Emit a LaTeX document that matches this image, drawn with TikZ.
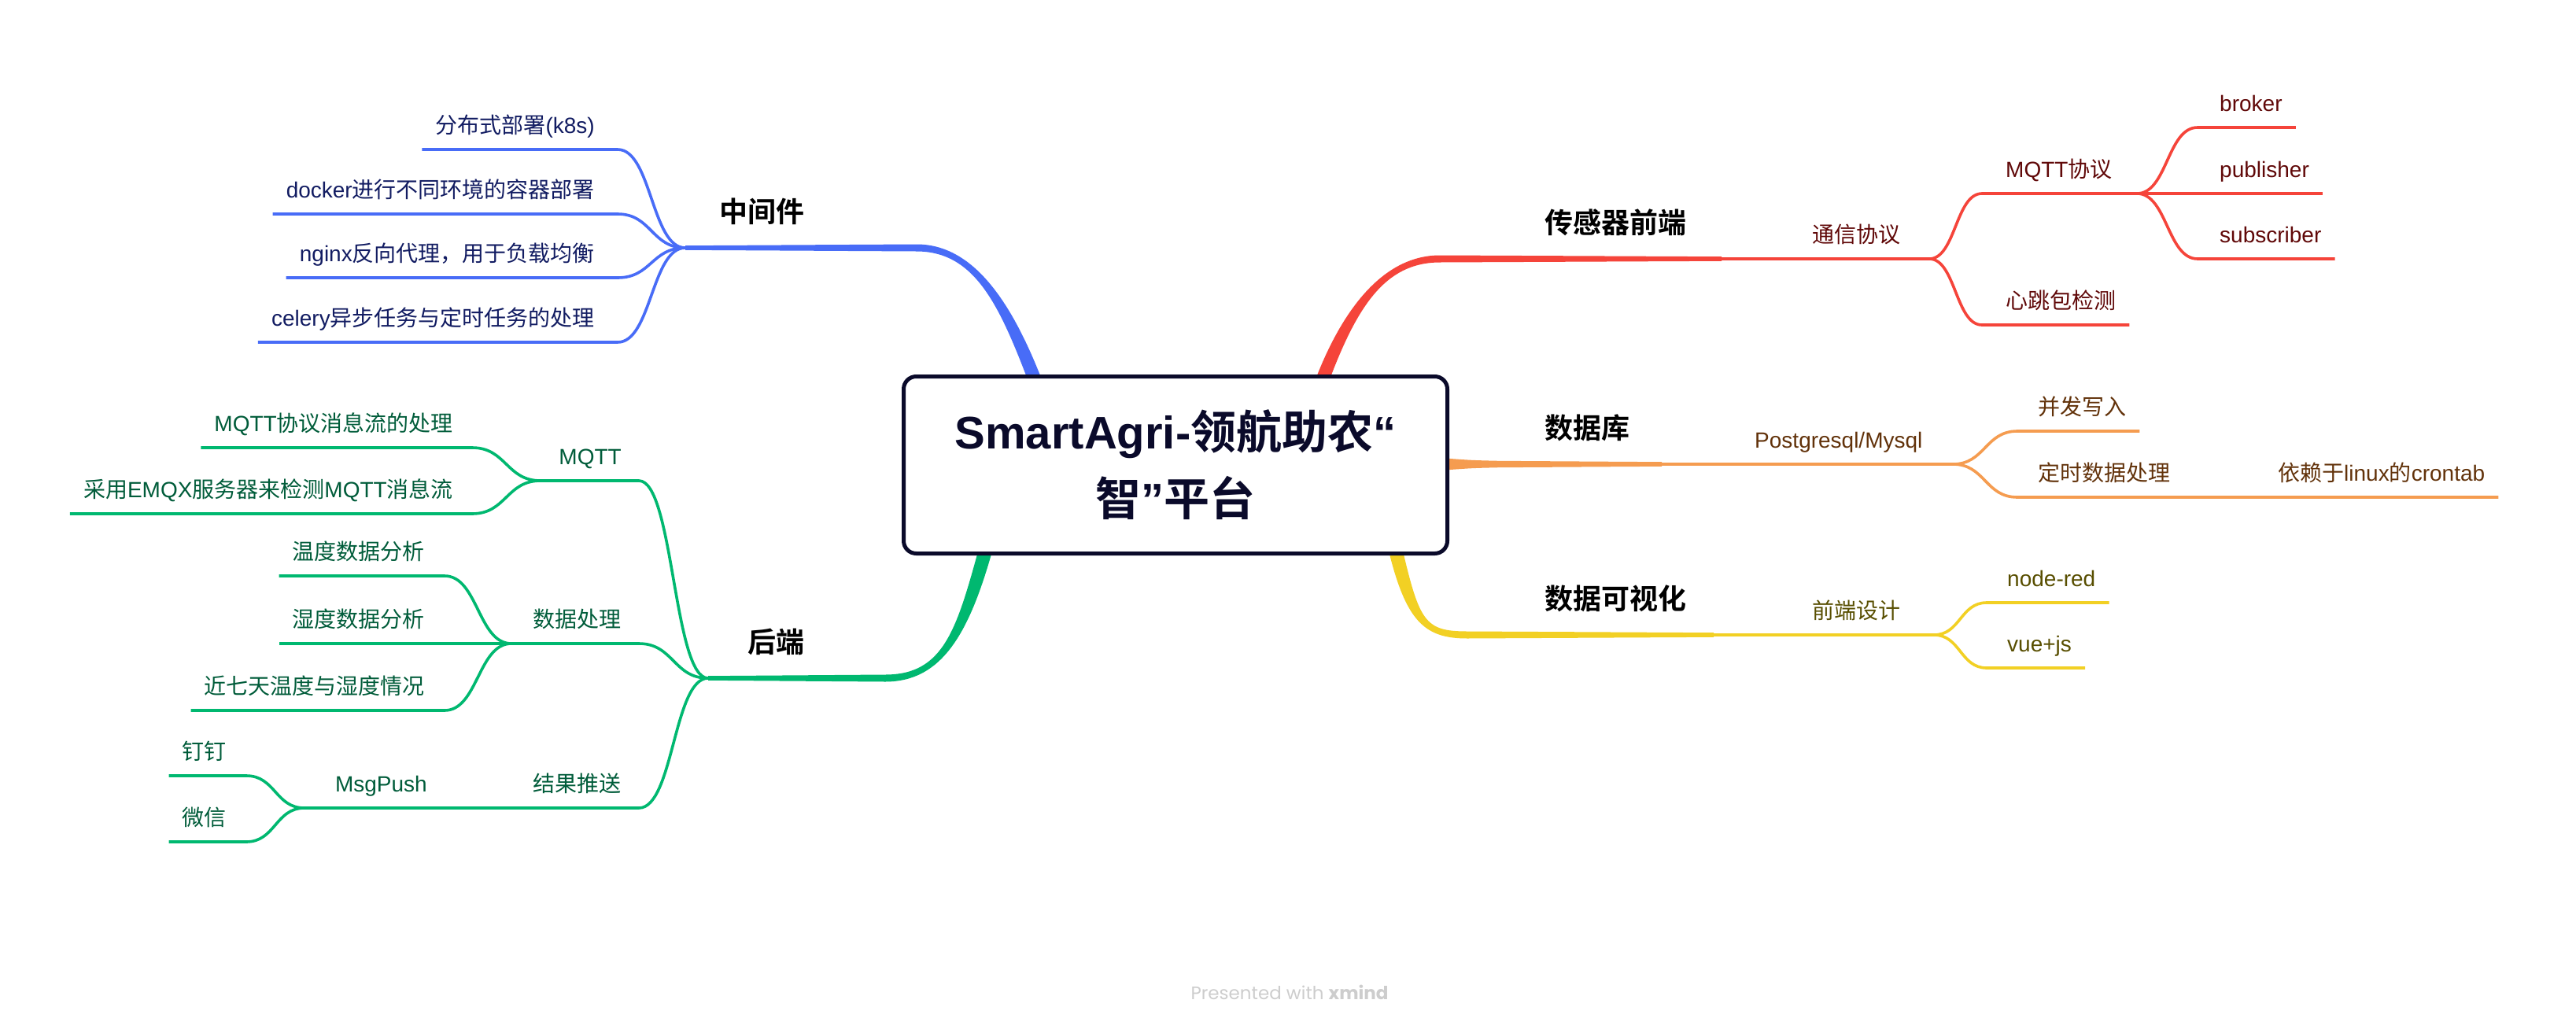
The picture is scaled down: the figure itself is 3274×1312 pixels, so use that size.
\documentclass[tikz,border=0pt]{standalone}
\usepackage{fontspec}
\setmainfont{Liberation Sans}
\newfontfamily\cjk{Noto Sans CJK SC}[BoldFont={Noto Sans CJK SC Bold}]
\newfontfamily\wmfont{Poppins}
\newcommand\zh[1]{{\cjk #1}}
\usetikzlibrary{calc}

\definecolor{cBlue}{RGB}{72,108,247}
\definecolor{tBlue}{RGB}{18,28,98}
\definecolor{cGreen}{RGB}{0,184,112}
\definecolor{tGreen}{RGB}{0,92,58}
\definecolor{cRed}{RGB}{245,68,58}
\definecolor{tRed}{RGB}{96,8,8}
\definecolor{cOrange}{RGB}{245,156,80}
\definecolor{tOrange}{RGB}{98,50,10}
\definecolor{cYellow}{RGB}{242,208,36}
\definecolor{tYellow}{RGB}{88,78,0}
\definecolor{cNavy}{RGB}{10,10,42}
\definecolor{wmGray}{RGB}{205,205,205}

\tikzset{
  lab/.style={inner xsep=17pt, inner ysep=0pt, font=\fontsize{28}{34}\selectfont},
  lone/.style={inner sep=0pt, font=\bfseries\fontsize{36}{42}\selectfont, text=black},
  thinline/.style={line width=3.6pt, line cap=butt, line join=round},
}
\newcommand\conn[4]{\draw[thinline,#1] (#2) .. controls ($(#2)!0.5!(#3 |- #2)$) and ($(#3)!0.5!(#2 |- #3)$) .. (#3) -- (#4 |- #3);}

\begin{document}
\begin{tikzpicture}[x=1pt,y=-1pt]
\useasboundingbox (0,0) rectangle (3274,1312);
\fill[white] (0,0) rectangle (3274,1312);

% ---------- thick main branches ----------
\fill[cBlue] (1318+9,490) .. controls (1280+9,390) and (1240,315-4.5) .. (1165,315-4.5) -- (871,315-2.8) -- (871,315+2.8) -- (1165,315+4.5) .. controls (1240,315+4.5) and (1280-9,390) .. (1318-9,490) -- cycle;
\fill[cGreen] (1255-9,690) .. controls (1225-9,800) and (1200,862-4.5) .. (1125,862-4.5) -- (900,862-2.8) -- (900,862+2.8) -- (1125,862+4.5) .. controls (1200,862+4.5) and (1225+9,800) .. (1255+9,690) -- cycle;
\fill[cRed] (1678-9,490) .. controls (1715-9,390) and (1760,329-4.5) .. (1830,329-4.5) -- (2188,329-2.8) -- (2188,329+2.8) -- (1830,329+4.5) .. controls (1760,329+4.5) and (1715+9,390) .. (1678+9,490) -- cycle;
\fill[cYellow] (1772+9,692) .. controls (1795+9,790) and (1810,807-4.5) .. (1865,807-4.5) -- (2178,807-2.8) -- (2178,807+2.8) -- (1865,807+4.5) .. controls (1810,807+4.5) and (1795-9,790) .. (1772-9,692) -- cycle;
\fill[cOrange] (1830,590-8) .. controls (1870,590-5) .. (1905,590-4.2) -- (2112,590-2.8) -- (2112,590+2.8) -- (1905,590+4.2) .. controls (1870,590+5) .. (1830,590+8) -- cycle;

% ---------- central topic ----------
\node[draw=cNavy, line width=5pt, fill=white, rounded corners=16pt, minimum width=691pt, minimum height=225pt,
      inner sep=0pt, align=center, text=cNavy, font=\bfseries\fontsize{58}{85}\selectfont] (title) at (1494,591)
      {SmartAgri-\zh{领航助农}“\\\zh{智}”\zh{平台}};

% ---------- 中间件 (blue) ----------
\node[lone, anchor=base east] (b0) at (1023,282) {\zh{中间件}};
\coordinate (bJ) at (871,315);
\node[lab, text=tBlue, anchor=base east] (b1) at (773,169) {\zh{分布式部署}(k8s)};
\node[lab, text=tBlue, anchor=base east] (b2) at (773,251) {docker\zh{进行不同环境的容器部署}};
\node[lab, text=tBlue, anchor=base east] (b3) at (773,332) {nginx\zh{反向代理，用于负载均衡}};
\node[lab, text=tBlue, anchor=base east] (b4) at (773,414) {celery\zh{异步任务与定时任务的处理}};
\coordinate (b1e) at (785,190);
\coordinate (b2e) at (785,272);
\coordinate (b3e) at (785,353);
\coordinate (b4e) at (785,435);
\conn{cBlue}{bJ}{b1e}{b1.west}
\conn{cBlue}{bJ}{b2e}{b2.west}
\conn{cBlue}{bJ}{b3e}{b3.west}
\conn{cBlue}{bJ}{b4e}{b4.west}

% ---------- 后端 (green) ----------
\node[lone, anchor=base east] (g0) at (1023,829) {\zh{后端}};
\coordinate (gJ) at (900,862);
\node[lab, text=tGreen, anchor=base east] (g1) at (807,590) {MQTT};
\node[lab, text=tGreen, anchor=base east] (g2) at (807,797) {\zh{数据处理}};
\node[lab, text=tGreen, anchor=base east] (g3) at (807,1006) {\zh{结果推送}};
\node[lab, text=tGreen, anchor=base east] (g4) at (560,1006) {MsgPush};
\coordinate (g1e) at (812,611);
\coordinate (g2e) at (812,818);
\coordinate (g3e) at (812,1027);
\coordinate (gJ1) at (687,611);
\coordinate (gJ2) at (650,818);
\coordinate (gJ4) at (387,1027);
\conn{cGreen}{gJ}{g1e}{gJ1}
\conn{cGreen}{gJ}{g2e}{gJ2}
\conn{cGreen}{gJ}{g3e}{gJ4}
\node[lab, text=tGreen, anchor=base east] (g11) at (593,548) {MQTT\zh{协议消息流的处理}};
\node[lab, text=tGreen, anchor=base east] (g12) at (593,632) {\zh{采用}EMQX\zh{服务器来检测}MQTT\zh{消息流}};
\coordinate (g11e) at (600,569);
\coordinate (g12e) at (600,653);
\conn{cGreen}{gJ1}{g11e}{g11.west}
\conn{cGreen}{gJ1}{g12e}{g12.west}
\node[lab, text=tGreen, anchor=base east] (g21) at (557,711) {\zh{温度数据分析}};
\node[lab, text=tGreen, anchor=base east] (g22) at (557,797) {\zh{湿度数据分析}};
\node[lab, text=tGreen, anchor=base east] (g23) at (557,882) {\zh{近七天温度与湿度情况}};
\coordinate (g21e) at (565,732);
\coordinate (g23e) at (565,903);
\conn{cGreen}{gJ2}{g21e}{g21.west}
\draw[thinline, cGreen] (gJ2) -- (g22.west |- gJ2);
\conn{cGreen}{gJ2}{g23e}{g23.west}
\node[lab, text=tGreen, anchor=base east] (g41) at (305,965) {\zh{钉钉}};
\node[lab, text=tGreen, anchor=base east] (g42) at (305,1049) {\zh{微信}};
\coordinate (g41e) at (313,986);
\coordinate (g42e) at (313,1070);
\conn{cGreen}{gJ4}{g41e}{g41.west}
\conn{cGreen}{gJ4}{g42e}{g42.west}

% ---------- 传感器前端 (red) ----------
\node[lone, anchor=base west] (r0) at (1963,296) {\zh{传感器前端}};
\coordinate (rP) at (2188,329);
\coordinate (rJ) at (2452,329);
\draw[thinline, cRed] (rP) -- (rJ);
\node[lab, text=tRed, anchor=base west] (r1) at (2286,308) {\zh{通信协议}};
\node[lab, text=tRed, anchor=base west] (r11) at (2532,225) {MQTT\zh{协议}};
\node[lab, text=tRed, anchor=base west] (r12) at (2532,392) {\zh{心跳包检测}};
\coordinate (r11e) at (2519,246);
\coordinate (r12e) at (2519,413);
\coordinate (rJ2) at (2716,246);
\conn{cRed}{rJ}{r11e}{rJ2}
\conn{cRed}{rJ}{r12e}{r12.east}
\node[lab, text=tRed, anchor=base west] (r111) at (2804,141) {broker};
\node[lab, text=tRed, anchor=base west] (r112) at (2804,225) {publisher};
\node[lab, text=tRed, anchor=base west] (r113) at (2804,308) {subscriber};
\coordinate (r111e) at (2793,162);
\coordinate (r113e) at (2793,329);
\conn{cRed}{rJ2}{r111e}{r111.east}
\draw[thinline, cRed] (rJ2) -- (r112.east |- rJ2);
\conn{cRed}{rJ2}{r113e}{r113.east}

% ---------- 数据库 (orange) ----------
\node[lone, anchor=base west] (o0) at (1963,557) {\zh{数据库}};
\coordinate (oP) at (2112,590);
\coordinate (oJ) at (2482,590);
\draw[thinline, cOrange] (oP) -- (oJ);
\node[lab, text=tOrange, anchor=base west] (o1) at (2213,569) {Postgresql/Mysql};
\node[lab, text=tOrange, anchor=base west] (o11) at (2573,527) {\zh{并发写入}};
\node[lab, text=tOrange, anchor=base west] (o12) at (2573,611) {\zh{定时数据处理}};
\node[lab, text=tOrange, anchor=base west] (o13) at (2878,611) {\zh{依赖于}linux\zh{的}crontab};
\coordinate (o11e) at (2564,548);
\coordinate (o12e) at (2564,632);
\conn{cOrange}{oJ}{o11e}{o11.east}
\conn{cOrange}{oJ}{o12e}{o13.east}

% ---------- 数据可视化 (yellow) ----------
\node[lone, anchor=base west] (y0) at (1963,774) {\zh{数据可视化}};
\coordinate (yP) at (2178,807);
\coordinate (yJ) at (2458,807);
\draw[thinline, cYellow] (yP) -- (yJ);
\node[lab, text=tYellow, anchor=base west] (y1) at (2286,786) {\zh{前端设计}};
\node[lab, text=tYellow, anchor=base west] (y11) at (2534,745) {node-red};
\node[lab, text=tYellow, anchor=base west] (y12) at (2534,828) {vue+js};
\coordinate (y11e) at (2525,766);
\coordinate (y12e) at (2525,849);
\conn{cYellow}{yJ}{y11e}{y11.east}
\conn{cYellow}{yJ}{y12e}{y12.east}

% ---------- watermark ----------
\node[inner sep=0pt, text=wmGray, font=\wmfont\fontsize{23}{28}\selectfont] (wm) at (1639,1261) {Presented with \textbf{xmind}};
\end{tikzpicture}
\end{document}
